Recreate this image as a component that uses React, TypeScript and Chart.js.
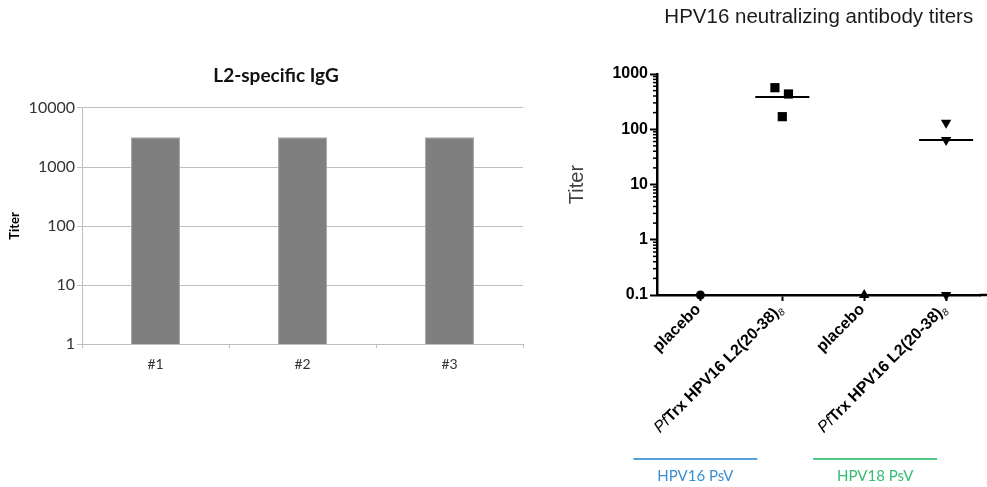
import React, { useEffect, useRef } from 'react';
import { Chart, registerables } from 'chart.js';

Chart.register(...registerables);

// ---------- Left chart data ----------
const IGG_CATEGORIES = ['#1', '#2', '#3'];
const IGG_TITERS = [3200, 3200, 3200];
const IGG_TICKS = [1, 10, 100, 1000, 10000];

// ---------- Right chart data ----------
const NT_CATEGORIES = ['placebo', 'PfTrx HPV16 L2(20-38)₈', 'placebo', 'PfTrx HPV16 L2(20-38)₈'];
const NT_HPV16_PLACEBO = [0.1];
const NT_HPV16_VACCINE = [565, 435, 169];
const NT_HPV18_PLACEBO = [0.1];
const NT_HPV18_VACCINE = [131, 64, 0.1];
const NT_MEDIANS: (number | null)[] = [null, 384, null, 64];
const NT_TICKS = [0.1, 1, 10, 100, 1000];
const NT_GROUPS = ['HPV16 PsV', 'HPV18 PsV'];

// ---------- Styling ----------
const SANS = '"Liberation Sans", Arial, sans-serif';
const CAL = 'Lato, "Open Sans", sans-serif';
const NT_SERIES = [NT_HPV16_PLACEBO, NT_HPV16_VACCINE, NT_HPV18_PLACEBO, NT_HPV18_VACCINE];
const NT_JITTER = [[0], [-0.09, 0.075, 0], [0], [0, 0, 0]];
const NT_POINT_STYLES = [
  { pointStyle: 'circle', radius: 4.5, rotation: 0 },
  { pointStyle: 'rect', radius: 6.5, rotation: 0 },
  { pointStyle: 'triangle', radius: 6, rotation: 0 },
  { pointStyle: 'triangle', radius: 6, rotation: 180 },
];
const GROUP_COLORS = ['#3b8fd0', '#35bd70'];
const GROUP_LINE_COLORS = ['#55a0d6', '#50c688'];
const GROUP_SHIFT = [-46, -30];
const MEDIAN_HALF = 0.33;

function splitLabel(label: string) {
  const parts: { text: string; font: string; dy: number; w?: number }[] = [];
  let rest = label;
  let sub = '';
  if (rest.startsWith('Pf')) {
    parts.push({ text: 'Pf', font: `italic 16px ${SANS}`, dy: 0 });
    rest = rest.slice(2);
  }
  if (rest.endsWith('₈')) {
    rest = rest.slice(0, -1);
    sub = '8';
  }
  parts.push({ text: rest, font: `bold 16px ${SANS}`, dy: 0 });
  if (sub) parts.push({ text: sub, font: `italic 10px ${SANS}`, dy: 5 });
  return parts;
}

const minorTicksPlugin = {
  id: 'minorTicks',
  beforeDatasetsDraw(chart: any) {
    const ys = chart.scales.y;
    const ctx = chart.ctx;
    const x0 = chart.chartArea.left;
    ctx.save();
    ctx.strokeStyle = '#000';
    ctx.lineWidth = 1.5;
    for (let i = 0; i < NT_TICKS.length - 1; i++) {
      for (let m = 2; m <= 9; m++) {
        const py = ys.getPixelForValue(NT_TICKS[i] * m);
        ctx.beginPath();
        ctx.moveTo(x0 - 4, py);
        ctx.lineTo(x0, py);
        ctx.stroke();
      }
    }
    // extend the x axis line to the canvas edge
    ctx.lineWidth = 2.5;
    ctx.beginPath();
    ctx.moveTo(chart.chartArea.right - 1, chart.chartArea.bottom);
    ctx.lineTo(chart.width, chart.chartArea.bottom);
    ctx.stroke();
    ctx.restore();
  },
};

const labelsPlugin = {
  id: 'richLabels',
  afterDraw(chart: any) {
    const xs = chart.scales.x;
    const ctx = chart.ctx;
    const base = chart.chartArea.bottom;
    NT_CATEGORIES.forEach((label, i) => {
      const px = xs.getPixelForValue(i);
      ctx.save();
      ctx.translate(px - 2, base + 12);
      ctx.rotate(-Math.PI / 4);
      const parts = splitLabel(label);
      let total = 0;
      parts.forEach((p) => {
        ctx.font = p.font;
        p.w = ctx.measureText(p.text).width;
        total += p.w;
      });
      let cx = -total;
      ctx.textBaseline = 'middle';
      ctx.textAlign = 'left';
      ctx.fillStyle = '#000';
      parts.forEach((p) => {
        ctx.font = p.font;
        ctx.fillText(p.text, cx, p.dy);
        cx += p.w || 0;
      });
      ctx.restore();
    });
    NT_GROUPS.forEach((g, gi) => {
      const a = xs.getPixelForValue(gi * 2);
      const b = xs.getPixelForValue(gi * 2 + 1);
      const c = (a + b) / 2 + GROUP_SHIFT[gi];
      ctx.save();
      ctx.strokeStyle = GROUP_LINE_COLORS[gi];
      ctx.lineWidth = 2;
      ctx.beginPath();
      ctx.moveTo(c - 62, base + 164);
      ctx.lineTo(c + 62, base + 164);
      ctx.stroke();
      ctx.fillStyle = GROUP_COLORS[gi];
      ctx.font = `15px ${CAL}`;
      ctx.textAlign = 'center';
      ctx.textBaseline = 'middle';
      ctx.fillText(g, c, base + 181);
      ctx.restore();
    });
  },
};

function IggChart() {
  const ref = useRef<HTMLCanvasElement>(null);
  useEffect(() => {
    const chart = new Chart(ref.current as HTMLCanvasElement, {
      type: 'bar',
      data: {
        labels: IGG_CATEGORIES,
        datasets: [
          {
            data: IGG_TITERS,
            backgroundColor: '#7f7f7f',
            borderColor: '#a6a6a6',
            borderWidth: 1,
            barPercentage: 0.333,
            categoryPercentage: 1,
          },
        ],
      },
      options: {
        responsive: false,
        animation: false,
        layout: { padding: { left: 0, right: 0, top: 0, bottom: 103 } },
        plugins: {
          legend: { display: false },
          tooltip: { enabled: false },
          title: {
            display: true,
            text: 'L2-specific IgG',
            color: '#111',
            font: { family: CAL, size: 19, weight: 'bold' },
            padding: { top: 64.6, bottom: 20.6 },
          },
        },
        scales: {
          x: {
            type: 'category',
            offset: true,
            grid: { offset: true, drawOnChartArea: false, tickLength: 4, color: '#bfbfbf' },
            border: { color: '#bfbfbf', width: 1 },
            ticks: { color: '#333', font: { family: CAL, size: 14 }, padding: 8 },
            afterFit: (s: any) => {
              s.height = 40;
            },
          },
          y: {
            type: 'logarithmic',
            min: 1,
            max: 10000,
            afterBuildTicks: (s: any) => {
              s.ticks = IGG_TICKS.map((v) => ({ value: v }));
            },
            afterFit: (s: any) => {
              s.width = 82;
            },
            grid: { color: '#bfbfbf', tickLength: 5, drawTicks: true },
            border: { color: '#bfbfbf', width: 1 },
            ticks: {
              color: '#333',
              font: { family: CAL, size: 16 },
              padding: 2,
              callback: (v: any) => String(v),
            },
            title: {
              display: true,
              text: 'Titer',
              color: '#000',
              font: { family: CAL, size: 13, weight: 'bold' },
              padding: { top: 7, bottom: 0 },
            },
          },
          ySpacer: {
            type: 'linear',
            position: 'right',
            display: true,
            grid: { display: false },
            border: { display: false },
            ticks: { display: false },
            afterFit: (s: any) => {
              s.width = 29;
            },
          },
        },
      } as any,
    });
    return () => chart.destroy();
  }, []);
  return (
    <canvas
      ref={ref}
      width={552}
      height={487}
      style={{ position: 'absolute', left: 0, top: 0, width: 552, height: 487 }}
    />
  );
}

function NtChart() {
  const ref = useRef<HTMLCanvasElement>(null);
  useEffect(() => {
    const pointSets = NT_SERIES.map((vals, i) => ({
      type: 'scatter',
      data: vals.map((v, j) => ({ x: i + (NT_JITTER[i][j] || 0), y: v })),
      pointStyle: NT_POINT_STYLES[i].pointStyle,
      pointRadius: NT_POINT_STYLES[i].radius,
      pointRotation: NT_POINT_STYLES[i].rotation,
      backgroundColor: '#000',
      borderColor: '#000',
      borderWidth: 0,
      clip: false,
    }));
    const medianData: { x: number; y: number | null }[] = [];
    NT_MEDIANS.forEach((m, i) => {
      if (m === null) return;
      medianData.push({ x: i - MEDIAN_HALF, y: m });
      medianData.push({ x: i + MEDIAN_HALF, y: m });
      medianData.push({ x: i + 0.5, y: null });
    });
    const chart = new Chart(ref.current as HTMLCanvasElement, {
      type: 'scatter',
      data: {
        datasets: [
          {
            type: 'line',
            data: medianData,
            borderColor: '#000',
            borderWidth: 2,
            pointRadius: 0,
            showLine: true,
            spanGaps: false,
            clip: false,
          },
          ...pointSets,
        ] as any,
      },
      plugins: [minorTicksPlugin, labelsPlugin],
      options: {
        responsive: false,
        animation: false,
        layout: { padding: { left: 0, right: 0, top: 0, bottom: 182 } },
        plugins: {
          legend: { display: false },
          tooltip: { enabled: false },
          title: {
            display: true,
            fullSize: false,
            text: 'HPV16 neutralizing antibody titers',
            color: '#1a1a1a',
            font: { family: SANS, size: 20.5, weight: 'normal' },
            padding: { top: 4.7, bottom: 44.7 },
          },
        },
        scales: {
          x: {
            type: 'linear',
            min: -0.53,
            max: 3.42,
            afterBuildTicks: (s: any) => {
              s.ticks = NT_CATEGORIES.map((_, i) => ({ value: i }));
            },
            afterFit: (s: any) => {
              s.height = 10;
            },
            ticks: { display: false },
            grid: { drawOnChartArea: false, tickLength: 6, tickColor: '#000', tickWidth: 2 },
            border: { color: '#000', width: 2.5 },
          },
          y: {
            type: 'logarithmic',
            min: 0.1,
            max: 1000,
            afterBuildTicks: (s: any) => {
              s.ticks = NT_TICKS.map((v) => ({ value: v }));
            },
            afterFit: (s: any) => {
              s.width = 105;
            },
            grid: { drawOnChartArea: false, tickLength: 7, tickColor: '#000', tickWidth: 2 },
            border: { color: '#000', width: 2.5 },
            ticks: {
              color: '#000',
              font: { family: SANS, size: 16, weight: 'bold' },
              padding: 2,
              callback: (v: any) => String(v),
            },
            title: {
              display: true,
              text: 'Titer',
              color: '#404040',
              font: { family: SANS, size: 20 },
              padding: { top: 13, bottom: 0 },
            },
          },
        },
      } as any,
    });
    return () => chart.destroy();
  }, []);
  return (
    <canvas
      ref={ref}
      width={435}
      height={487}
      style={{ position: 'absolute', left: 552, top: 0, width: 435, height: 487 }}
    />
  );
}

export default function App() {
  return (
    <div style={{ position: 'absolute', left: 0, top: 0, width: 987, height: 487, background: '#fff' }}>
      <IggChart />
      <NtChart />
    </div>
  );
}
